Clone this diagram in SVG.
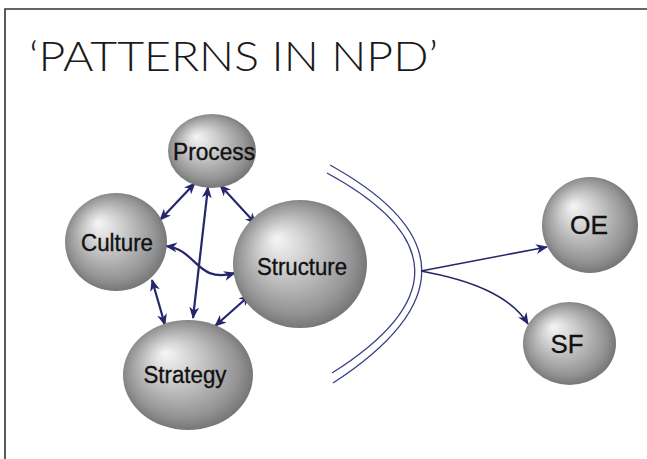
<svg xmlns="http://www.w3.org/2000/svg" width="647" height="459" viewBox="0 0 647 459">
<defs>
<radialGradient id="sph" cx="0.5" cy="0.5" r="0.55" fx="0.32" fy="0.3">
<stop offset="0" stop-color="#f6f6f6"/>
<stop offset="0.3" stop-color="#d2d2d2"/>
<stop offset="0.78" stop-color="#939393"/>
<stop offset="1" stop-color="#6a6a6a"/>
</radialGradient>
<marker id="ah" viewBox="0 0 12 10" refX="11" refY="5" markerWidth="12" markerHeight="10" markerUnits="userSpaceOnUse" orient="auto-start-reverse">
<path d="M0,0 L12,5 L0,10 L3.5,5 z" fill="#25266b"/>
</marker>
</defs>
<style>
.sp{fill:url(#sph);}
.lb{font-family:"Liberation Sans",Arial,sans-serif;fill:#111;stroke:#111;stroke-width:0.35;text-anchor:middle;}
.c{fill:none;stroke:#25266b;stroke-width:2.2;}
.c2{fill:none;stroke:#25266b;stroke-width:1.6;}
.arc{fill:none;stroke:#3b3e85;stroke-width:1.3;}
</style>
<rect x="0" y="0" width="647" height="459" fill="#fff"/>
<path d="M5,470 L5,9 L660,9" fill="none" stroke="#333" stroke-width="1.6"/>
<text x="29" y="71" font-family="Lato,'Liberation Sans',sans-serif" font-weight="300" font-size="42" fill="#1a1a1a" textLength="409" lengthAdjust="spacingAndGlyphs">‘PATTERNS IN NPD’</text>

<g id="connectors">
<path class="c" d="M195,183 L160,220" marker-start="url(#ah)" marker-end="url(#ah)"/>
<path class="c" d="M220,185 L256,224" marker-start="url(#ah)" marker-end="url(#ah)"/>
<path class="c" d="M208,187 L193,318" marker-start="url(#ah)" marker-end="url(#ah)"/>
<path class="c" d="M166,246 C198,250 196,284 235,273" marker-start="url(#ah)" marker-end="url(#ah)"/>
<path class="c" d="M152,280 L165,325" marker-start="url(#ah)" marker-end="url(#ah)"/>
<path class="c" d="M215,326 L250,295" marker-start="url(#ah)" marker-end="url(#ah)"/>
<path class="arc" d="M330,165 Q512,266 333,383"/>
<path class="arc" d="M327,173 Q500,267 332,373"/>
<path class="c2" d="M421,271 L547,247" marker-end="url(#ah)"/>
<path class="c2" d="M421,271 C470,280 510,295 528,324" marker-end="url(#ah)"/>
</g>

<g id="process">
<ellipse class="sp" cx="212" cy="151" rx="44" ry="37"/>
<text class="lb" x="214" y="160" font-size="23.5" textLength="82" lengthAdjust="spacingAndGlyphs">Process</text>
</g>
<g id="culture">
<ellipse class="sp" cx="116" cy="242" rx="51" ry="49"/>
<text class="lb" x="117" y="251" font-size="23.5" textLength="72" lengthAdjust="spacingAndGlyphs">Culture</text>
</g>
<g id="structure">
<ellipse class="sp" cx="300" cy="264" rx="67" ry="64"/>
<text class="lb" x="302" y="275" font-size="23.5" textLength="90" lengthAdjust="spacingAndGlyphs">Structure</text>
</g>
<g id="strategy">
<ellipse class="sp" cx="188" cy="375" rx="65" ry="55"/>
<text class="lb" x="185" y="383" font-size="23.5" textLength="83" lengthAdjust="spacingAndGlyphs">Strategy</text>
</g>
<g id="oe">
<ellipse class="sp" cx="590" cy="225" rx="48" ry="48"/>
<text class="lb" x="589" y="234" font-size="26.5" textLength="38" lengthAdjust="spacingAndGlyphs">OE</text>
</g>
<g id="sf">
<ellipse class="sp" cx="569.5" cy="343.5" rx="46.5" ry="41.5"/>
<text class="lb" x="567" y="353" font-size="26.5" textLength="33" lengthAdjust="spacingAndGlyphs">SF</text>
</g>
</svg>
